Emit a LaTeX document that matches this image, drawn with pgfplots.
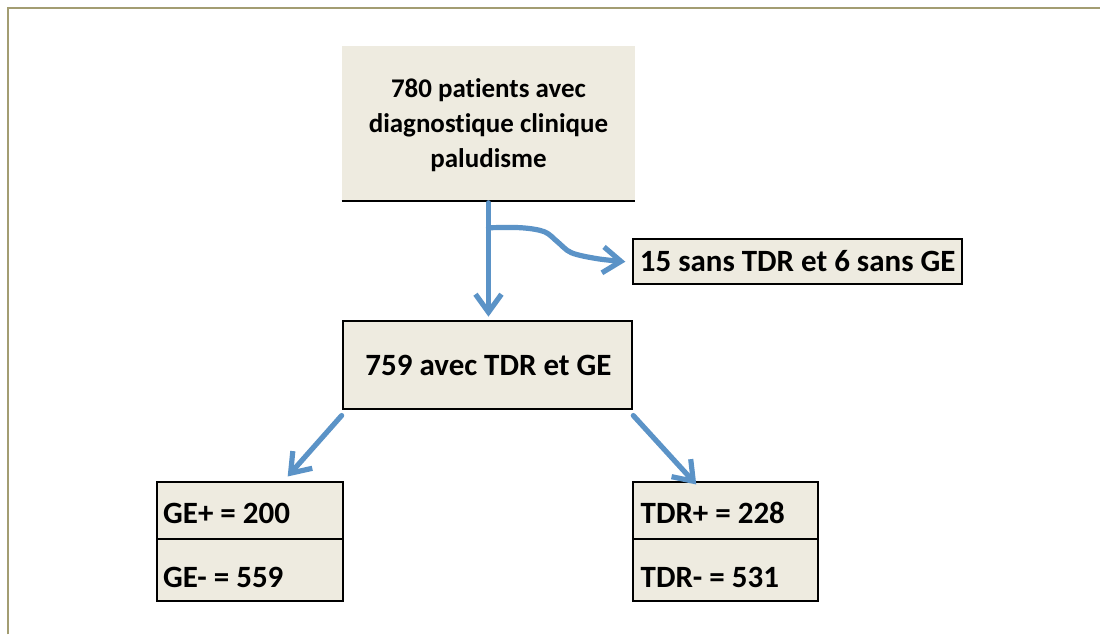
\documentclass[border=0pt]{standalone}
\usepackage{pgfplots}
\pgfplotsset{compat=1.18}
\usepackage{fontspec}
\setmainfont{Carlito}[Ligatures=NoCommon]
\usetikzlibrary{arrows.meta}
\definecolor{beige}{HTML}{EEEBE0}
\definecolor{arrowblue}{HTML}{5B93C7}
\definecolor{framecol}{HTML}{A39D72}
\tikzset{
  arr/.style={arrowblue, line width=2.6pt, line cap=round, line join=round,
    -{Straight Barb[length=9pt,width=13pt,line width=2.6pt]}},
  txt/.style={inner sep=0pt, font=\bfseries\fontsize{15.5}{19}\selectfont},
  ttxt/.style={inner sep=0pt, anchor=base, font=\bfseries\fontsize{13.5}{17.5}\selectfont}}
\begin{document}
\begin{tikzpicture}
\begin{axis}[hide axis, scale only axis, width=550.5pt, height=317.5pt,
  xmin=0, xmax=1101, ymin=0, ymax=635, y dir=reverse, clip=false, no markers]
% background
\addplot[fill=white, draw=none] coordinates {(0,0)(1101,0)(1101,635)(0,635)} -- cycle;
% frame
\addplot[framecol, line width=1.2pt] coordinates {(8,635)(8,8)(1101,8)};
% top box
\addplot[fill=beige, draw=none] coordinates {(342,46)(636,46)(636,201)(342,201)} -- cycle;
\addplot[black, line width=1.2pt] coordinates {(342,201)(636,201)};
% side box
\addplot[fill=beige, draw=black, line width=1pt] coordinates {(634,239)(963,239)(963,284)(634,284)} -- cycle;
% middle box
\addplot[fill=beige, draw=black, line width=1pt] coordinates {(343,321)(633,321)(633,409)(343,409)} -- cycle;
% left box
\addplot[fill=beige, draw=black, line width=1pt] coordinates {(157,483)(343,483)(343,602)(157,602)} -- cycle;
\addplot[black, line width=1pt] coordinates {(157,540)(343,540)};
% right box
\addplot[fill=beige, draw=black, line width=1pt] coordinates {(634,483)(819,483)(819,602)(634,602)} -- cycle;
\addplot[black, line width=1pt] coordinates {(634,540)(819,540)};
% arrows
\addplot[arr] coordinates {(489,203)(489,317)};
\addplot[arr, smooth, tension=0.55] coordinates {(489,228)(522,228)(545,232)(558,242)(572,253)(598,259)(626,262)};
\addplot[arr] coordinates {(342,416)(288,477)};
\addplot[arr] coordinates {(634,416)(697,485)};
% texts
\node[ttxt] at (axis cs:489,98) {780 patients avec};
\node[ttxt] at (axis cs:489,133) {diagnostique clinique};
\node[ttxt] at (axis cs:489,168) {paludisme};
\node[txt, anchor=base] at (axis cs:798.5,272) {15 sans TDR et 6 sans GE};
\node[txt, anchor=base] at (axis cs:489,376) {759 avec TDR et GE};
\node[txt, anchor=base west] at (axis cs:163,524) {GE+ = 200};
\node[txt, anchor=base west] at (axis cs:163,588) {GE- = 559};
\node[txt, anchor=base west] at (axis cs:641,524) {TDR+ = 228};
\node[txt, anchor=base west] at (axis cs:641,588) {TDR- = 531};
\end{axis}
\end{tikzpicture}
\end{document}
